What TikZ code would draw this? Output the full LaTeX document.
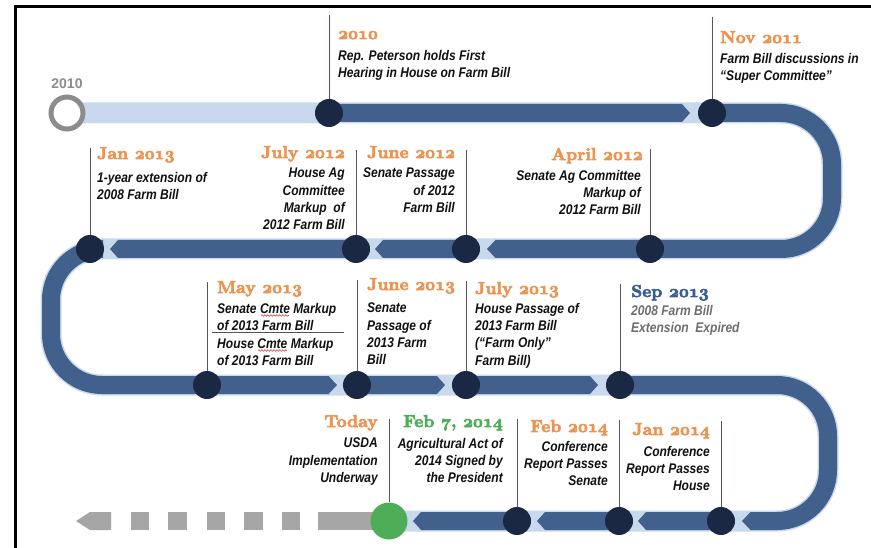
\documentclass[tikz,border=0pt]{standalone}
\usepackage{fontspec}
\usetikzlibrary{decorations.pathmorphing}
\newfontfamily\bodyface{Liberation Sans}[FakeStretch=0.86]
\newfontfamily\labelface{Liberation Sans}
\newfontfamily\ttlface{lmroman10-bold}[Extension=.otf]
\font\osfont=cmmib10 at 17.28pt
\newcommand\osn[1]{{\osfont #1}}
\newcommand\ttlfont{\ttlface\fontsize{17.28}{20}\selectfont}
\newcommand\bdyfont{\bodyface\fontsize{14}{17.3}\selectfont\bfseries\itshape}
\newcommand\emboldon{\special{pdf:literal direct 2 Tr 0.6 w}}
\newcommand\emboldoff{\special{pdf:literal direct 0 Tr}}
\definecolor{orangeT}{HTML}{EB9350}
\definecolor{greenT}{HTML}{4EAD57}
\definecolor{sepT}{HTML}{3A5D94}
\definecolor{textC}{HTML}{111111}
\definecolor{grayT}{HTML}{6E6E6E}
\definecolor{darkC}{HTML}{41618C}
\definecolor{lightC}{HTML}{C8D9EE}
\definecolor{navy}{HTML}{1A2844}
\definecolor{grayC}{HTML}{A6A6A6}
\definecolor{ringC}{HTML}{8C8C8C}
\definecolor{lineC}{HTML}{4D5566}
\definecolor{wavered}{HTML}{E04040}
\newcommand\segR[3]{\fill[darkC] (#1,{#3-9}) -- ({#2-8},{#3-9}) -- (#2,#3) -- ({#2-8},{#3+9}) -- (#1,{#3+9}) -- cycle;}
\newcommand\segL[3]{\fill[darkC] (#1,{#3-9}) -- ({#2+8},{#3-9}) -- (#2,#3) -- ({#2+8},{#3+9}) -- (#1,{#3+9}) -- cycle;}
\begin{document}
\begin{tikzpicture}[x=1pt,y=-1pt,
  ttl/.style={inner sep=0pt, font=\ttlfont, text=orangeT, execute at begin node=\emboldon, execute at end node=\emboldoff},
  bdy/.style={inner sep=0pt, font=\bdyfont, text=textC},
  dot/.style={circle, fill=navy, minimum size=28pt, inner sep=0pt},
  vline/.style={draw=lineC, line width=1pt},
  darkband/.style={draw=darkC, line width=18pt, rounded corners=51pt},
  lightband/.style={draw=lightC, line width=21pt, rounded corners=51pt},
  wave/.style={draw=wavered, line width=0.6pt, decorate, decoration={snake, amplitude=0.8pt, segment length=3pt}},
  sq/.style={fill=grayC}]
\useasboundingbox (0,0) rectangle (871,548);
\fill[white] (0,0) rectangle (871,548);
\draw[line width=2.5pt] (15.3,548) -- (15.3,6.3) -- (871,6.3);

% light band
\draw[lightband] (67,113) -- (832,113) -- (832,249) -- (51,249) -- (51,385) -- (828,385) -- (828,521) -- (389,521);

% dark bands
\segR{329}{690}{113}
\draw[darkband] (712,113) -- (832,113) -- (832,249) -- (495,249);
\fill[darkC] (495.5,240) -- (487,249) -- (495.5,258) -- cycle;
\segL{466}{375}{249}
\segL{356}{110}{249}
\draw[darkband] (103,249) -- (51,249) -- (51,385) -- (329,385);
\fill[darkC] (328.5,376) -- (337,385) -- (328.5,394) -- cycle;
\segR{357}{445}{385}
\segR{466}{598}{385}
\draw[darkband] (620,385) -- (828,385) -- (828,521) -- (750,521);
\fill[darkC] (750.5,512) -- (742,521) -- (750.5,530) -- cycle;
\segL{721}{638}{521}
\segL{619}{537}{521}
\segL{517}{413}{521}

% gray future
\fill[sq] (318,512) rectangle (389,530);
\fill[sq] (282,512) rectangle (300,530);
\fill[sq] (244,512) rectangle (263,530);
\fill[sq] (207,512) rectangle (225,530);
\fill[sq] (168,512) rectangle (187,530);
\fill[sq] (131,512) rectangle (149,530);
\fill[sq] (111,512) -- (90,512) -- (76,521) -- (90,530) -- (111,530) -- cycle;

% start ring
\node[circle, draw=ringC, line width=5pt, fill=white, minimum size=32pt, inner sep=0pt] (r0) at (67,113) {};
\node[font=\labelface\fontsize{14}{16}\selectfont\bfseries, text=ringC, inner sep=0pt, anchor=base] (l0) at (67,89) {2010};

% circles
\node[dot] (c1) at (329,113) {};
\node[dot] (c2) at (712,113) {};
\node[dot] (c3) at (650,249) {};
\node[dot] (c4) at (466,249) {};
\node[dot] (c5) at (356,249) {};
\node[dot] (c6) at (90,249) {};
\node[dot] (c7) at (207,385) {};
\node[dot] (c8) at (357,385) {};
\node[dot] (c9) at (466,385) {};
\node[dot] (c10) at (620,385) {};
\node[dot] (c11) at (721,521) {};
\node[dot] (c12) at (619,521) {};
\node[dot] (c13) at (517,521) {};
\node[dot, fill=greenT, minimum size=37pt] (c14) at (389,521) {};

% leader tops
\coordinate (t1) at (329,15);
\coordinate (t2) at (712,17);
\coordinate (t3) at (650,149);
\coordinate (t4) at (466,150);
\coordinate (t5) at (356,150);
\coordinate (t6) at (90,148);
\coordinate (t7) at (207,282);
\coordinate (t8) at (357,280);
\coordinate (t9) at (466,281);
\coordinate (t10) at (620,284);
\coordinate (t11) at (721,421);
\coordinate (t12) at (619,420);
\coordinate (t13) at (517,419);
\coordinate (t14) at (389,419);
\foreach \i in {1,...,14} {\draw[vline] (c\i) -- (t\i);}

% row 1 labels
\node[ttl, anchor=base west] (h1) at (338,39) {\osn{2010}};
\node[bdy, anchor=north west, align=left] (b1) at (338,50) {Rep. Peterson holds First\\Hearing in House on Farm Bill};
\node[ttl, anchor=base west] (h2) at (720,43) {Nov \osn{2011}};
\node[bdy, anchor=north west, align=left] (b2) at (720,53) {Farm Bill discussions in\\“Super Committee”};

% row 2 labels
\node[ttl, anchor=base west] (h6) at (97,159) {Jan \osn{2013}};
\node[bdy, anchor=north west, align=left] (b6) at (97,172) {1-year extension of\\2008 Farm Bill};
\node[ttl, anchor=base east] (h5) at (345,158) {July \osn{2012}};
\node[bdy, anchor=north east, align=right] (b5) at (345,168) {House Ag\\Committee\\Markup~ of\\2012 Farm Bill};
\node[ttl, anchor=base west] (h4) at (367,158) {June \osn{2012}};
\node[bdy, anchor=north east, align=right] (b4) at (455,168) {Senate Passage\\of 2012\\Farm Bill};
\node[ttl, anchor=base east] (h3) at (643,160) {April \osn{2012}};
\node[bdy, anchor=north east, align=right] (b3) at (641,170) {Senate Ag Committee\\Markup of\\2012 Farm Bill};

% row 3 labels
\node[ttl, anchor=base west] (h7) at (217,293) {May \osn{2013}};
\node[bdy, anchor=north west, align=left] (b7a) at (217,303) {Senate Cmte Markup\\of 2013 Farm Bill};
\coordinate (s7a) at (212,333);
\coordinate (s7b) at (344,333);
\draw[draw=lineC, line width=1pt] (s7a) -- (s7b);
\node[bdy, anchor=north west, align=left] (b7b) at (217,338) {House Cmte Markup\\of 2013 Farm Bill};
\coordinate (w1a) at (261,315.5);
\coordinate (w1b) at (289,315.5);
\coordinate (w2a) at (258,350.5);
\coordinate (w2b) at (287,350.5);
\draw[wave] (w1a) -- (w1b);
\draw[wave] (w2a) -- (w2b);
\node[ttl, anchor=base west] (h8) at (367,290) {June \osn{2013}};
\node[bdy, anchor=north west, align=left] (b8) at (367,303) {Senate\\Passage of\\2013 Farm\\Bill};
\node[ttl, anchor=base west] (h9) at (475,294) {July \osn{2013}};
\node[bdy, anchor=north west, align=left] (b9) at (475,303) {House Passage of\\2013 Farm Bill\\(“Farm Only”\\Farm Bill)};
\node[ttl, anchor=base west, text=sepT] (h10) at (631,297) {Sep \osn{2013}};
\node[bdy, anchor=north west, align=left, text=grayT] (b10) at (631,305) {2008 Farm Bill\\Extension~ Expired};

% row 4 labels
\node[ttl, anchor=base east] (h14) at (378,427) {Today};
\node[bdy, anchor=north east, align=right] (b14) at (378,438) {USDA\\Implementation\\Underway};
\node[ttl, anchor=base east, text=greenT] (h13) at (503,427) {Feb \osn{7}, \osn{2014}};
\node[bdy, anchor=north east, align=right] (b13) at (503,438) {Agricultural Act of\\2014 Signed by\\the President};
\node[ttl, anchor=base east] (h12) at (608,432) {Feb \osn{2014}};
\node[bdy, anchor=north east, align=right] (b12) at (608,441) {Conference\\Report Passes\\Senate};
\node[ttl, anchor=base east] (h11) at (710,435) {Jan \osn{2014}};
\node[bdy, anchor=north east, align=right] (b11) at (710,446) {Conference\\Report Passes\\House};
\end{tikzpicture}
\end{document}
